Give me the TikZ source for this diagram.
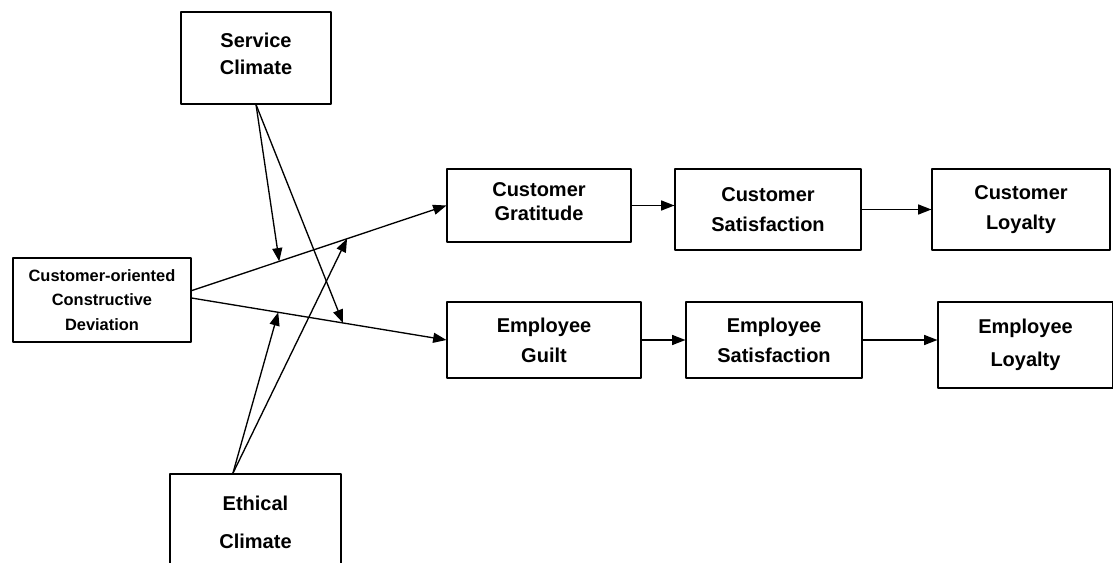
\documentclass[tikz,border=0pt]{standalone}
\usepackage{fontspec}
\setmainfont{Liberation Sans}
\usetikzlibrary{arrows.meta}
\tikzset{box/.style 2 args={draw, line width=.8pt, align=center, inner sep=0pt,
  minimum width=#1, minimum height=#2, font=\fontsize{15}{18}\selectfont\bfseries}}
\begin{document}
\begin{tikzpicture}[x=.75pt,y=-.75pt,>={Triangle[length=10pt,width=7.5pt]}, line width=1pt, line join=round]
\useasboundingbox (0,0) rectangle (1113,563);
% antecedent and moderators
\node[box={112.5pt}{69pt}] (svc) at (256,58) {Service\\[2pt]Climate\\[-12pt]\mbox{}};
\node[box={133.5pt}{63pt},font=\fontsize{12.3}{18.4}\selectfont\bfseries] (ccd) at (102,300) {Customer-oriented\\Constructive\\Deviation};
\node[box={128.25pt}{72pt}] (eth) at (255.5,522) {Ethical\\[10.5pt]Climate};
% customer path
\node[box={138pt}{54.75pt}] (grat) at (539,205.5) {Customer\\Gratitude\\[-12pt]\mbox{}};
\node[box={139.5pt}{60.75pt}] (csat) at (768,209.5) {Customer\\[4.5pt]Satisfaction};
\node[box={133.5pt}{60.75pt}] (cloy) at (1021,209.5) {Customer\\[4pt]Loyalty};
% employee path
\node[box={145.5pt}{57pt}] (guilt) at (544,340) {Employee\\[4.5pt]Guilt};
\node[box={132pt}{57pt}] (esat) at (774,340) {Employee\\[4.5pt]Satisfaction};
\node[box={131.25pt}{64.5pt}] (eloy) at (1025.5,345) {Employee\\[7pt]Loyalty};

\draw[->] ([yshift=7pt]ccd.east) -- coordinate[pos=.344] (sc1) coordinate[pos=.61] (ec1) (grat.west);
\draw[->] ([yshift=1.5pt]ccd.east) -- coordinate[pos=.34] (ec2) coordinate[pos=.594] (sc2) (guilt.west);
\foreach \m in {sc1,sc2}
\draw[->] (svc.south) -- (\m);
\foreach \m in {ec1,ec2}
\draw[->] ([xshift=-17pt]eth.north) -- (\m);
\foreach \a/\b in {grat/csat,csat/cloy,guilt/esat,esat/eloy}
\draw[->] (\a.east) -- (\a.east -| \b.west);
\end{tikzpicture}
\end{document}
